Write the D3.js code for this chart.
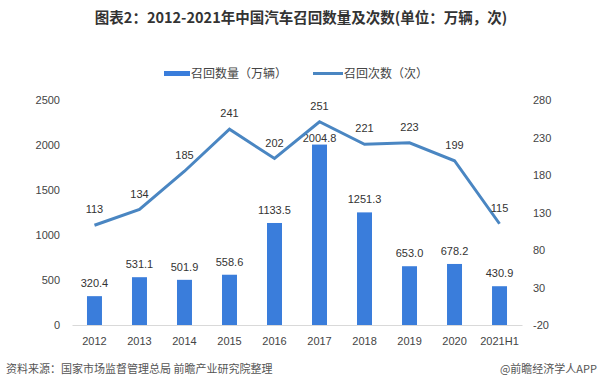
<!DOCTYPE html>
<html><head><meta charset="utf-8">
<script src="https://cdn.jsdelivr.net/npm/d3@7/dist/d3.min.js"></script>
<style>body{margin:0;background:#fff}svg{display:block}text{font-family:"Liberation Sans","Noto Sans CJK SC",sans-serif}</style>
</head><body><svg id="c" width="600" height="391"></svg>
<script>
const categories=["2012","2013","2014","2015","2016","2017","2018","2019","2020","2021H1"];
const recallVolume=[320.4,531.1,501.9,558.6,1133.5,2004.8,1251.3,653.0,678.2,430.9];
const recallCount=[113,134,185,241,202,251,221,223,199,115];
const leftTicks=[0,500,1000,1500,2000,2500];
const rightTicks=[-20,30,80,130,180,230,280];
const titleText="图表2：2012-2021年中国汽车召回数量及次数(单位：万辆，次)";
const legendLabels=["召回数量（万辆）","召回次数（次）"];
const sourceText="资料来源：国家市场监督管理总局 前瞻产业研究院整理";
const brandText="@前瞻经济学人APP";

const svg=d3.select("#c");
const barColor="#3a7ddb", lineColor="#4a86c2";
const x=d3.scaleBand().domain(categories).range([72,522]).paddingInner(0.667).paddingOuter(0.333);
const yL=d3.scaleLinear().domain([0,2500]).range([325,100]);
const yR=d3.scaleLinear().domain([-20,280]).range([325,100]);

svg.append("text").attr("x",301).attr("y",23).attr("text-anchor","middle")
  .attr("font-size",14.5).attr("font-weight","bold").attr("fill","#333")
  .style("font-family","'Noto Sans CJK SC',sans-serif").text(titleText);

// legend
const lg=svg.append("g").attr("font-size",12).attr("fill","#444").style("font-family","'Noto Sans CJK SC',sans-serif");
lg.append("rect").attr("x",164).attr("y",71).attr("width",26).attr("height",5).attr("fill",barColor);
lg.append("text").attr("x",191).attr("y",78).text(legendLabels[0]);
lg.append("line").attr("x1",313).attr("x2",343).attr("y1",73.5).attr("y2",73.5).attr("stroke",lineColor).attr("stroke-width",3);
lg.append("text").attr("x",344).attr("y",78).text(legendLabels[1]);

// axes
const fmt=d=>String(d);
const axL=svg.append("g").attr("transform","translate(64,0)").call(d3.axisLeft(yL).tickValues(leftTicks).tickFormat(fmt).tickSize(0).tickPadding(4));
const axR=svg.append("g").attr("transform","translate(529,0)").call(d3.axisRight(yR).tickValues(rightTicks).tickFormat(fmt).tickSize(0).tickPadding(4));
[axL,axR].forEach(a=>{a.select(".domain").remove();a.selectAll("text").attr("font-size",11).attr("fill","#444").style("font-family","'Liberation Sans',sans-serif");});

const axB=svg.append("g").attr("transform","translate(0,325)").call(d3.axisBottom(x).tickSize(0).tickPadding(12));
axB.select(".domain").attr("stroke","#d9d9d9");
axB.selectAll("text").attr("font-size",11).attr("fill","#444").style("font-family","'Liberation Sans',sans-serif");

// bars
svg.append("g").selectAll("rect").data(recallVolume).join("rect")
  .attr("x",(d,i)=>x(categories[i])).attr("width",x.bandwidth())
  .attr("y",d=>yL(d)).attr("height",d=>yL(0)-yL(d)).attr("fill",barColor);
svg.append("g").selectAll("text").data(recallVolume).join("text")
  .attr("x",(d,i)=>x(categories[i])+x.bandwidth()/2)
  .attr("y",(d,i)=>yL(d)-(i===5?3:9)).attr("text-anchor","middle")
  .attr("font-size",11).attr("fill","#333").text(d=>d.toFixed(1));

// line
const line=d3.line().x((d,i)=>x(categories[i])+x.bandwidth()/2).y(d=>yR(d));
svg.append("path").datum(recallCount).attr("d",line).attr("fill","none")
  .attr("stroke",lineColor).attr("stroke-width",3).attr("stroke-linejoin","miter");
svg.append("g").selectAll("text").data(recallCount).join("text")
  .attr("x",(d,i)=>x(categories[i])+x.bandwidth()/2)
  .attr("y",d=>yR(d)-12).attr("text-anchor","middle")
  .attr("font-size",11).attr("fill","#333").text(d=>d);

// footer
svg.append("text").attr("x",6).attr("y",373).attr("font-size",11).attr("fill","#555")
  .style("font-family","'Noto Sans CJK SC',sans-serif").text(sourceText);
svg.append("text").attr("x",597).attr("y",373).attr("text-anchor","end").attr("font-size",11).attr("fill","#555")
  .style("font-family","'Noto Sans CJK SC',sans-serif").text(brandText);
</script></body></html>
